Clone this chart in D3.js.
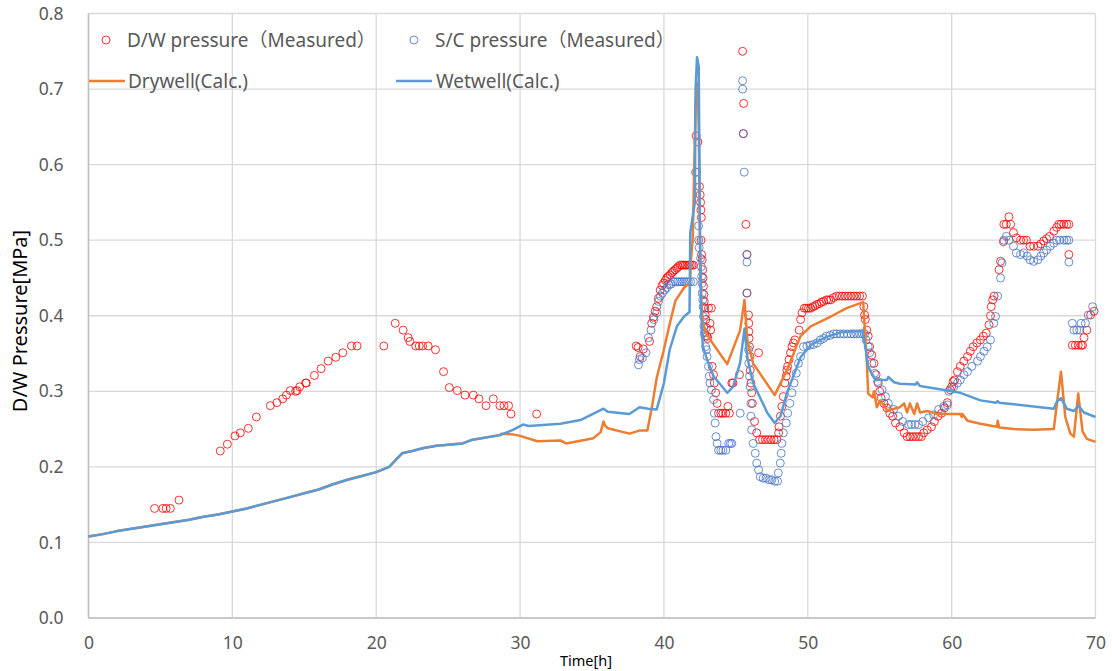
<!DOCTYPE html>
<html lang="en">
<head>
<meta charset="UTF-8">
<title>D/W pressure</title>
<script src="https://d3js.org/d3.v7.min.js"></script>
<style>
    body{ margin:0; background:#fff; }
    .tick text{ font-family:"Noto Sans", sans-serif; font-size:17.5px; fill:#595959; }
    .legend text{ font-family:"Noto Sans", "Noto Sans CJK JP", sans-serif; font-size:19px; fill:#595959; }
    .axis-title{ font-family:"Noto Sans", sans-serif; fill:#000; }
</style>
</head>
<body>
<svg id="chart" width="1112" height="671"></svg>
<script>
    // ticks
    let xTicks = [0, 10, 20, 30, 40, 50, 60, 70]
    let yTicks = [0, 0.1, 0.2, 0.3, 0.4, 0.5, 0.6, 0.7, 0.8]

    // D/W pressure (Measured) [time h, MPa]
    let dwMeasured = [
        [4.59,0.145],[5.17,0.145],[5.4,0.145],[5.69,0.145],[6.29,0.156],
        [9.16,0.221],[9.65,0.230],[10.18,0.241],[10.55,0.245],[11.11,0.251],[11.67,0.266],
        [12.64,0.281],[13.1,0.285],[13.5,0.290],[13.76,0.295],[14.03,0.301],[14.4,0.300],[14.5,0.301],
        [14.68,0.306],[15.1,0.311],[15.14,0.311],[15.7,0.321],[16.17,0.330],[16.66,0.340],[17.19,0.345],
        [17.68,0.351],[18.28,0.360],[18.67,0.360],
        [20.53,0.360],[21.32,0.390],[21.87,0.381],[22.22,0.371],[22.34,0.366],[22.75,0.360],[22.99,0.360],
        [23.22,0.360],[23.61,0.360],[24.12,0.355],[24.68,0.326],[25.08,0.305],[25.63,0.301],[26.17,0.295],
        [26.75,0.295],[27.14,0.290],[27.63,0.281],[28.14,0.290],[28.6,0.281],[28.88,0.281],[29.2,0.281],
        [29.37,0.270],[31.15,0.270],
        [38.07,0.360],[38.2,0.358],[38.35,0.346],[38.57,0.356],[39.0,0.366],[39.15,0.390],[39.27,0.398],
        [39.39,0.406],[39.5,0.412],[39.62,0.423],[39.74,0.434],[39.87,0.440],[39.97,0.443],[40.1,0.447],
        [40.2,0.450],[40.3,0.452],[40.43,0.454],[40.55,0.457],[40.66,0.459],[40.78,0.461],[40.9,0.463],
        [41.0,0.465],[41.13,0.467],[41.25,0.467],[41.36,0.467],[41.48,0.467],[41.6,0.467],[41.72,0.467],
        [41.83,0.467],[41.95,0.467],[42.05,0.467],
        [42.24,0.638],[42.36,0.630],[42.47,0.571],[42.52,0.560],[42.55,0.550],[42.57,0.540],[42.6,0.530],
        [42.58,0.500],[42.62,0.481],[42.66,0.474],[42.7,0.461],[42.72,0.450],[42.75,0.439],[42.78,0.428],
        [42.8,0.419],[42.84,0.410],[42.87,0.401],[42.92,0.395],[42.95,0.384],[43.0,0.373],[43.05,0.370],
        [43.1,0.410],[43.3,0.410],[43.2,0.390],[43.25,0.381],[43.35,0.333],[43.45,0.322],[43.5,0.311],
        [43.6,0.298],[43.7,0.284],[43.8,0.271],[43.95,0.271],[44.1,0.271],[44.3,0.271],[44.45,0.280],
        [44.55,0.271],[44.72,0.311],[44.8,0.311],[45.25,0.322],
        [45.47,0.750],[45.54,0.681],[45.52,0.641],[45.7,0.521],[45.77,0.481],[45.77,0.430],[45.88,0.401],
        [45.9,0.390],[45.9,0.379],[45.92,0.370],[45.95,0.359],[45.98,0.346],[46.0,0.328],[46.05,0.311],
        [46.1,0.298],[46.15,0.284],[46.3,0.260],[46.45,0.245],[46.58,0.351],[46.65,0.236],[46.85,0.236],
        [47.05,0.236],[47.25,0.236],[47.45,0.236],[47.65,0.236],[47.85,0.236],[47.97,0.245],[48.0,0.253],
        [48.1,0.267],[48.2,0.280],[48.3,0.293],[48.4,0.311],[48.5,0.320],[48.55,0.328],[48.6,0.333],
        [48.7,0.342],[48.8,0.351],[48.9,0.359],[49.0,0.364],[49.1,0.368],[49.4,0.381],[49.5,0.395],
        [49.6,0.404],[49.76,0.410],[49.9,0.410],[50.05,0.410],[50.2,0.410],[50.35,0.412],[50.5,0.413],
        [50.64,0.415],[50.8,0.416],[50.95,0.418],[51.1,0.419],[51.3,0.421],[51.45,0.421],[51.6,0.421],
        [51.8,0.424],[52.0,0.426],[52.2,0.426],[52.4,0.426],[52.6,0.426],[52.8,0.426],[53.0,0.426],
        [53.2,0.426],[53.4,0.426],[53.6,0.426],[53.8,0.426],
        [53.9,0.412],[53.95,0.401],[54.0,0.395],[54.1,0.381],[54.2,0.373],[54.3,0.359],[54.45,0.348],
        [54.6,0.337],[54.75,0.322],[54.9,0.311],[55.0,0.300],[55.1,0.291],[55.3,0.284],[55.5,0.278],
        [55.7,0.271],[55.9,0.267],[56.1,0.258],[56.4,0.253],[56.7,0.245],[56.9,0.240],[57.1,0.240],
        [57.3,0.240],[57.5,0.240],[57.7,0.240],[57.9,0.240],[58.06,0.245],[58.3,0.249],[58.6,0.253],
        [58.8,0.260],[59.05,0.267],[59.3,0.271],[59.5,0.278],[59.7,0.285],[59.9,0.302],[60.0,0.306],
        [60.1,0.313],[60.2,0.315],[60.4,0.326],[60.6,0.333],[60.85,0.340],[61.1,0.346],[61.3,0.353],
        [61.5,0.359],[61.75,0.364],[62.0,0.368],[62.2,0.373],[62.4,0.377],[62.6,0.388],[62.7,0.400],
        [62.75,0.412],[62.85,0.421],[62.95,0.426],[63.3,0.461],[63.4,0.472],[63.6,0.498],[63.63,0.521],
        [63.8,0.521],[63.98,0.531],[64.1,0.521],[64.3,0.510],[64.5,0.503],[64.8,0.500],[65.0,0.500],
        [65.2,0.500],[65.45,0.492],[65.7,0.492],[66.0,0.492],[66.2,0.495],[66.4,0.499],[66.6,0.502],
        [66.8,0.505],[67.1,0.512],[67.3,0.517],[67.45,0.521],[67.6,0.521],[67.8,0.521],[68.0,0.521],
        [68.15,0.521],[68.15,0.481],[68.39,0.361],[68.6,0.361],[68.8,0.361],[69.0,0.361],[69.1,0.361],
        [69.2,0.371],[69.4,0.381],[69.66,0.401],[69.9,0.406]
    ]

    // S/C pressure (Measured)
    let scMeasured = [
        [38.23,0.335],[38.3,0.342],[38.5,0.344],[38.75,0.351],[38.92,0.371],[39.1,0.381],[39.3,0.395],
        [39.5,0.404],[39.62,0.419],[39.75,0.426],[39.9,0.430],[40.05,0.434],[40.2,0.437],[40.35,0.441],
        [40.5,0.442],[40.66,0.445],[40.8,0.445],[40.95,0.445],[41.1,0.445],[41.25,0.445],[41.4,0.445],
        [41.55,0.445],[41.7,0.445],[41.85,0.445],[42.05,0.445],
        [42.2,0.590],[42.28,0.590],[42.41,0.519],[42.42,0.500],[42.45,0.490],[42.55,0.476],[42.6,0.465],
        [42.62,0.452],[42.65,0.443],[42.66,0.430],[42.7,0.421],[42.72,0.412],[42.75,0.399],[42.78,0.386],
        [42.8,0.377],[42.85,0.373],[42.9,0.359],[42.95,0.355],[43.0,0.346],[43.1,0.333],[43.15,0.320],
        [43.2,0.311],[43.3,0.302],[43.45,0.289],[43.5,0.271],[43.56,0.258],[43.62,0.240],[43.7,0.231],
        [43.8,0.222],[43.95,0.222],[44.1,0.222],[44.3,0.222],[44.5,0.231],[44.62,0.231],[44.72,0.231],
        [45.3,0.271],
        [45.47,0.711],[45.47,0.700],[45.52,0.641],[45.58,0.590],[45.77,0.481],[45.77,0.471],[45.77,0.430],
        [45.88,0.355],[45.9,0.337],[45.95,0.320],[46.0,0.306],[46.05,0.284],[46.05,0.267],[46.1,0.249],
        [46.2,0.231],[46.35,0.218],[46.45,0.205],[46.58,0.196],[46.7,0.187],[46.9,0.185],[47.1,0.185],
        [47.3,0.183],[47.5,0.183],[47.7,0.181],[47.9,0.181],[47.95,0.192],[48.09,0.205],[48.15,0.218],
        [48.2,0.231],[48.3,0.245],[48.5,0.258],[48.6,0.271],[48.75,0.284],[48.9,0.298],[49.05,0.311],
        [49.2,0.324],[49.35,0.337],[49.5,0.346],[49.7,0.359],[49.94,0.360],[50.15,0.361],[50.4,0.362],
        [50.65,0.364],[50.87,0.368],[51.1,0.370],[51.3,0.373],[51.55,0.374],[51.8,0.376],[52.0,0.376],
        [52.25,0.376],[52.5,0.376],[52.75,0.376],[53.0,0.376],[53.2,0.376],[53.4,0.376],[53.6,0.376],
        [53.8,0.376],[53.95,0.376],
        [54.05,0.368],[54.2,0.359],[54.3,0.351],[54.45,0.337],[54.65,0.324],[54.85,0.313],[55.16,0.302],
        [55.4,0.293],[55.6,0.284],[55.97,0.276],[56.3,0.267],[56.6,0.260],[57.0,0.256],[57.2,0.256],
        [57.45,0.256],[57.7,0.256],[58.0,0.260],[58.4,0.265],[58.75,0.269],[59.1,0.276],[59.45,0.280],
        [59.7,0.282],[59.8,0.300],[60.15,0.306],[60.4,0.311],[60.6,0.315],[60.85,0.322],[61.1,0.326],
        [61.4,0.333],[61.8,0.340],[62.0,0.346],[62.25,0.353],[62.47,0.359],[62.7,0.368],[62.93,0.390],
        [63.05,0.399],[63.2,0.426],[63.4,0.450],[63.5,0.470],[63.63,0.500],[63.8,0.505],[64.0,0.500],
        [64.3,0.492],[64.5,0.483],[64.8,0.481],[65.0,0.483],[65.25,0.479],[65.45,0.474],[65.7,0.472],
        [66.0,0.474],[66.2,0.479],[66.4,0.483],[66.6,0.487],[66.85,0.492],[67.1,0.496],[67.3,0.500],
        [67.5,0.500],[67.8,0.500],[68.0,0.500],[68.15,0.500],[68.15,0.471],[68.39,0.390],[68.5,0.381],
        [68.7,0.381],[68.9,0.381],[69.0,0.390],[69.3,0.390],[69.5,0.401],[69.8,0.412]
    ]

    // Drywell (Calc.)
    let drywellCalc = [
        [0,0.108],[1,0.111],[2,0.115],[3,0.118],[4,0.121],[5,0.124],[6,0.127],[7,0.130],[8,0.134],
        [9,0.137],[10,0.141],[11,0.145],[12,0.150],[13,0.155],[14,0.160],[15,0.165],[16,0.170],
        [17,0.177],[18,0.183],[19,0.188],[20,0.193],[20.9,0.200],[21.3,0.208],[21.8,0.218],[22.5,0.221],
        [23.3,0.225],[24.2,0.228],[26.0,0.231],[26.7,0.236],[28.6,0.242],
        [28.7,0.244],[29.5,0.243],[30.0,0.241],[31.2,0.234],[32.8,0.235],[33.2,0.231],[35.1,0.238],
        [35.6,0.246],[35.8,0.260],[35.9,0.255],[36.1,0.251],[37.6,0.244],[38.3,0.248],[38.85,0.248],
        [39.2,0.283],[39.5,0.318],[39.97,0.353],[40.4,0.389],[40.8,0.420],[41.4,0.437],[41.7,0.442],
        [41.83,0.446],[41.86,0.470],[42.0,0.500],[42.2,0.680],[42.32,0.708],[42.42,0.650],[42.5,0.500],
        [42.6,0.420],[42.7,0.390],[43.0,0.375],[43.3,0.366],[44.4,0.336],[45.3,0.381],[45.6,0.421],
        [45.8,0.368],[46.2,0.337],[47.7,0.295],[48.55,0.328],[49.5,0.373],[50.2,0.386],[51.6,0.399],
        [52.7,0.410],[53.85,0.418],[54.1,0.341],[54.2,0.297],[54.5,0.292],[54.6,0.300],[54.8,0.279],
        [55.05,0.288],[55.5,0.275],[56.0,0.277],[56.4,0.279],[56.7,0.284],[56.9,0.272],[57.1,0.284],
        [57.4,0.270],[57.6,0.284],[57.8,0.272],[58.3,0.274],[59.0,0.270],[60.6,0.270],[60.7,0.266],
        [60.75,0.270],[61.1,0.261],[62.0,0.257],[63.15,0.253],[63.2,0.261],[63.3,0.252],[64.3,0.250],
        [65.7,0.249],[67.1,0.250],[67.2,0.266],[67.6,0.326],[67.9,0.266],[68.25,0.244],[68.5,0.240],
        [68.8,0.297],[69.1,0.247],[69.4,0.237],[70,0.233]
    ]

    // Wetwell (Calc.)
    let wetwellCalc = [
        [0,0.108],[1,0.111],[2,0.115],[3,0.118],[4,0.121],[5,0.124],[6,0.127],[7,0.130],[8,0.134],
        [9,0.137],[10,0.141],[11,0.145],[12,0.150],[13,0.155],[14,0.160],[15,0.165],[16,0.170],
        [17,0.177],[18,0.183],[19,0.188],[20,0.193],[20.9,0.200],[21.3,0.208],[21.8,0.218],[22.5,0.221],
        [23.3,0.225],[24.2,0.228],[26.0,0.231],[26.7,0.236],[28.6,0.242],[29.5,0.249],[30.2,0.256],
        [30.6,0.254],[32.8,0.257],[34.2,0.262],[35.8,0.277],[36.1,0.273],[37.6,0.270],[38.3,0.279],
        [38.9,0.277],[39.5,0.276],[40.0,0.311],[40.4,0.355],[40.9,0.386],[41.4,0.399],[41.78,0.405],
        [41.83,0.510],[42.15,0.550],[42.2,0.700],[42.3,0.742],[42.42,0.730],[42.47,0.600],[42.52,0.480],
        [42.6,0.400],[42.7,0.360],[43.0,0.342],[43.45,0.320],[44.4,0.298],[44.8,0.306],[45.3,0.338],
        [45.6,0.383],[45.8,0.345],[46.0,0.327],[46.2,0.311],[47.2,0.271],[47.7,0.258],[48.1,0.267],
        [48.55,0.298],[49.5,0.345],[50.2,0.361],[51.3,0.372],[52.3,0.378],[53.8,0.380],[54.0,0.359],
        [54.2,0.332],[54.7,0.315],[55.5,0.315],[55.6,0.319],[56.0,0.312],[56.4,0.310],[57.5,0.309],
        [57.6,0.312],[57.8,0.307],[59.7,0.301],[60.6,0.298],[62.0,0.288],[63.1,0.285],[63.2,0.287],
        [63.3,0.285],[64.3,0.283],[65.7,0.280],[67.1,0.277],[67.3,0.286],[67.6,0.291],[68.0,0.277],
        [68.5,0.274],[68.8,0.281],[69.2,0.272],[70,0.266]
    ]

    let svg = d3.select("#chart")
    svg.append("rect").attr("width", 1112).attr("height", 671).attr("fill", "#fff")

    let plotLeft = 88.5, plotRight = 1095.5, plotTop = 13.5, plotBottom = 618
    let x = d3.scaleLinear().domain([0, 70]).range([plotLeft, plotRight])
    let y = d3.scaleLinear().domain([0, 0.8]).range([plotBottom, plotTop])

    // grid
    svg.append("g").selectAll("line").data(yTicks).join("line")
        .attr("x1", plotLeft).attr("x2", plotRight)
        .attr("y1", d => y(d)).attr("y2", d => y(d))
        .attr("stroke", "#d9d9d9").attr("stroke-width", 1.3)
    svg.append("g").selectAll("line").data(xTicks).join("line")
        .attr("x1", d => x(d)).attr("x2", d => x(d))
        .attr("y1", plotTop).attr("y2", plotBottom)
        .attr("stroke", "#d9d9d9").attr("stroke-width", 1.3)

    // axis lines
    svg.append("line").attr("x1", plotLeft).attr("x2", plotLeft).attr("y1", plotTop).attr("y2", plotBottom)
        .attr("stroke", "#bfbfbf").attr("stroke-width", 1.5)
    svg.append("line").attr("x1", plotLeft).attr("x2", plotRight).attr("y1", plotBottom).attr("y2", plotBottom)
        .attr("stroke", "#bfbfbf").attr("stroke-width", 1.5)

    // axes (labels only)
    let yAxis = svg.append("g").attr("transform", `translate(${plotLeft},0)`)
        .call(d3.axisLeft(y).tickValues(yTicks).tickFormat(d3.format(".1f")).tickSize(0).tickPadding(25))
    yAxis.select(".domain").remove()

    let xAxis = svg.append("g").attr("transform", `translate(0,${plotBottom})`)
        .call(d3.axisBottom(x).tickValues(xTicks).tickSize(0).tickPadding(19))
    xAxis.select(".domain").remove()

    let line = d3.line().x(d => x(d[0])).y(d => y(d[1]))

    // measured circles
    svg.append("g").selectAll("circle").data(dwMeasured).join("circle")
        .attr("cx", d => x(d[0])).attr("cy", d => y(d[1])).attr("r", 4)
        .attr("fill", "none").attr("stroke", "#ff0000").attr("stroke-opacity", 0.8).attr("stroke-width", 1)
    svg.append("g").selectAll("circle").data(scMeasured).join("circle")
        .attr("cx", d => x(d[0])).attr("cy", d => y(d[1])).attr("r", 4)
        .attr("fill", "none").attr("stroke", "#4472c4").attr("stroke-opacity", 0.8).attr("stroke-width", 1)

    // calc lines
    svg.append("path").datum(drywellCalc).attr("d", line)
        .attr("fill", "none").attr("stroke", "#ed7d31").attr("stroke-width", 2.5).attr("stroke-linejoin", "round")
    svg.append("path").datum(wetwellCalc).attr("d", line)
        .attr("fill", "none").attr("stroke", "#5b9bd5").attr("stroke-width", 2.5).attr("stroke-linejoin", "round")

    // legend
    let legend = svg.append("g").attr("class", "legend")
    legend.append("circle").attr("cx", 106).attr("cy", 40).attr("r", 4)
        .attr("fill", "none").attr("stroke", "#ff0000").attr("stroke-opacity", 0.8)
    legend.append("text").attr("x", 127).attr("y", 40).attr("dominant-baseline", "central")
        .text("D/W pressure（Measured）")
    legend.append("circle").attr("cx", 414).attr("cy", 40).attr("r", 4)
        .attr("fill", "none").attr("stroke", "#4472c4").attr("stroke-opacity", 0.8)
    legend.append("text").attr("x", 435).attr("y", 40).attr("dominant-baseline", "central")
        .text("S/C pressure（Measured）")
    legend.append("line").attr("x1", 89).attr("x2", 125).attr("y1", 81).attr("y2", 81)
        .attr("stroke", "#ed7d31").attr("stroke-width", 2.5)
    legend.append("text").attr("x", 128).attr("y", 81).attr("dominant-baseline", "central")
        .text("Drywell(Calc.)")
    legend.append("line").attr("x1", 396).attr("x2", 432).attr("y1", 81).attr("y2", 81)
        .attr("stroke", "#5b9bd5").attr("stroke-width", 2.5)
    legend.append("text").attr("x", 436).attr("y", 81).attr("dominant-baseline", "central")
        .text("Wetwell(Calc.)")

    // axis titles
    svg.append("text").attr("class", "axis-title")
        .attr("transform", "translate(19,321) rotate(-90)")
        .attr("text-anchor", "middle").attr("dominant-baseline", "central")
        .attr("font-size", 20).text("D/W Pressure[MPa]")
    svg.append("text").attr("class", "axis-title")
        .attr("x", 586).attr("y", 660)
        .attr("text-anchor", "middle").attr("dominant-baseline", "central")
        .attr("font-size", 14.5).text("Time[h]")
</script>
</body>
</html>
